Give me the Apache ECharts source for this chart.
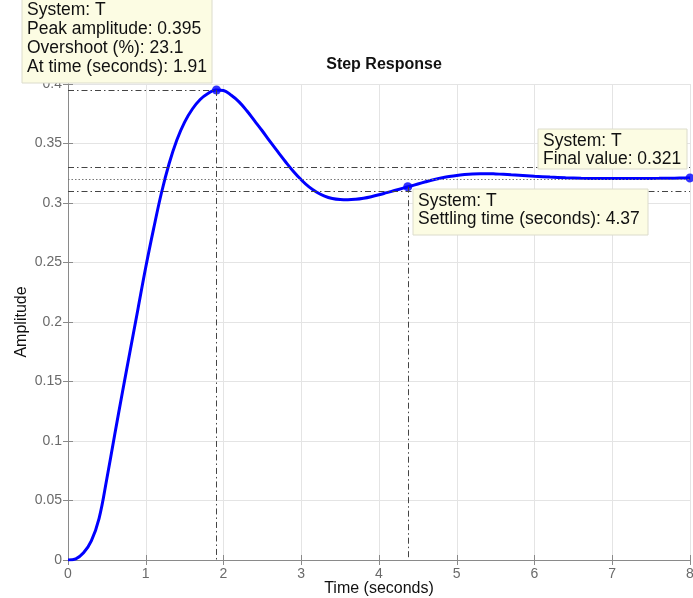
<!DOCTYPE html>
<html>
<head>
<meta charset="utf-8">
<script src="https://cdn.jsdelivr.net/npm/echarts@6/dist/echarts.min.js"></script>
<style>
  html, body { margin: 0; padding: 0; background: #fff; }
  #chart { width: 693px; height: 598px; }
</style>
</head>
<body>
<div id="chart"></div>
<script>
// step response
const timeS = [0, 0.1, 0.2, 0.3, 0.4, 0.5, 0.6, 0.7, 0.8, 0.9,
  1.0, 1.1, 1.2, 1.3, 1.4, 1.5, 1.6, 1.7, 1.8, 1.9,
  2.0, 2.1, 2.2, 2.3, 2.4, 2.5, 2.6, 2.7, 2.8, 2.9,
  3.0, 3.1, 3.2, 3.3, 3.4, 3.5, 3.6, 3.7, 3.8, 3.9,
  4.0, 4.1, 4.2, 4.3, 4.4, 4.5, 4.6, 4.7, 4.8, 4.9,
  5.0, 5.1, 5.2, 5.3, 5.4, 5.5, 5.6, 5.7, 5.8, 5.9,
  6.0, 6.2, 6.4, 6.6, 6.8, 7.0, 7.2, 7.4, 7.6, 7.8, 8.0];
const amplitude = [0, 0.001, 0.006, 0.016, 0.035, 0.0685, 0.105, 0.141, 0.176, 0.211,
  0.246, 0.278, 0.308, 0.333, 0.353, 0.368, 0.379, 0.387, 0.392, 0.395,
  0.3945, 0.3905, 0.385, 0.3775, 0.369, 0.3605, 0.3515, 0.343, 0.3345, 0.3265,
  0.3195, 0.3135, 0.309, 0.3058, 0.3038, 0.3029, 0.3027, 0.3031, 0.304, 0.3053,
  0.3069, 0.3087, 0.3105, 0.3123, 0.3141, 0.316, 0.3178, 0.3195, 0.321, 0.3222,
  0.3232, 0.3239, 0.3244, 0.3246, 0.3246, 0.3244, 0.3241, 0.3237, 0.3233, 0.3229,
  0.3225, 0.3218, 0.3212, 0.3208, 0.3206, 0.3205, 0.3205, 0.3206, 0.3207, 0.3209, 0.321];

// characteristic points (peak, settling, final)
const markT = [1.91, 4.37, 8];
const markV = [0.395, 0.3137, 0.321];
const settleBand = [0.3274, 0.3146];
const finalValue = 0.321;

const peakText = ['System: T', 'Peak amplitude: 0.395', 'Overshoot (%): 23.1', 'At time (seconds): 1.91'];
const finalText = ['System: T', 'Final value: 0.321'];
const settleText = ['System: T', 'Settling time (seconds): 4.37'];

const font = 'Helvetica, "Liberation Sans", Arial, sans-serif';
const axisGray = '#8a8a8a';
const labelGray = '#6a6a6a';
const dashDot = [6, 3, 1.5, 3];

const curve = timeS.map((t, i) => [t, amplitude[i]]);
const markers = markT.map((t, i) => [t, markV[i]]);

function tipBox(x, y, w, h, lines, lineH) {
  return {
    type: 'group',
    children: [
      { type: 'rect', z: 100, shape: { x: x, y: y, width: w, height: h },
        style: { fill: '#fcfce3', stroke: '#dcdccc', lineWidth: 1 } },
      { type: 'text', z: 101, x: x + 5, y: y + 3,
        style: { text: lines.join('\n'), font: '17.5px ' + font, fill: '#111',
                 lineHeight: lineH, textVerticalAlign: 'top' } }
    ]
  };
}

const chart = echarts.init(document.getElementById('chart'), null, { renderer: 'canvas' });
chart.setOption({
  animation: false,
  title: {
    text: 'Step Response', left: 379, top: 52, textAlign: 'center',
    textStyle: { fontFamily: font, fontSize: 16, fontWeight: 'bold', color: '#111' }
  },
  grid: { left: 68, right: 3, top: 84, bottom: 38, outerBoundsMode: 'none', containLabel: false },
  xAxis: [{
    type: 'value', min: 0, max: 8, interval: 1,
    name: 'Time (seconds)', nameLocation: 'middle', nameGap: 21, nameMoveOverlap: false,
    nameTextStyle: { fontFamily: font, fontSize: 16, color: '#111' },
    axisLine: { lineStyle: { color: axisGray } },
    axisTick: { inside: true, length: 5, lineStyle: { color: axisGray } },
    axisLabel: { fontFamily: font, fontSize: 14, color: labelGray, margin: 7 },
    splitLine: { lineStyle: { color: '#e4e4e4' } }
  }, {
    type: 'value', position: 'top', min: 0, max: 8, interval: 1,
    axisLine: { show: true, lineStyle: { color: axisGray } },
    axisTick: { show: true, inside: true, length: 5, lineStyle: { color: axisGray } },
    axisLabel: { show: false }, splitLine: { show: false }
  }],
  yAxis: [{
    type: 'value', min: 0, max: 0.4, interval: 0.05,
    name: 'Amplitude', nameLocation: 'middle', nameGap: 38, nameMoveOverlap: false,
    nameTextStyle: { fontFamily: font, fontSize: 16, color: '#111' },
    axisLine: { show: true, lineStyle: { color: axisGray } },
    axisTick: { show: true, inside: true, length: 5, lineStyle: { color: axisGray } },
    axisLabel: { fontFamily: font, fontSize: 14, color: labelGray, margin: 6 },
    splitLine: { lineStyle: { color: '#e4e4e4' } }
  }, {
    type: 'value', position: 'right', min: 0, max: 0.4, interval: 0.05,
    axisLine: { show: true, lineStyle: { color: axisGray } },
    axisTick: { show: true, inside: true, length: 5, lineStyle: { color: axisGray } },
    axisLabel: { show: false }, splitLine: { show: false }
  }],
  series: [{
    type: 'scatter', data: [], z: 1, silent: true,
    markLine: {
      silent: true, symbol: ['none', 'none'], label: { show: false },
      lineStyle: { color: '#444', width: 1, type: dashDot },
      data: [
        [{ coord: [0, markV[0]] }, { coord: [markT[0], markV[0]] }],
        [{ coord: [markT[0], markV[0]] }, { coord: [markT[0], 0] }],
        [{ coord: [markT[1], markV[1]] }, { coord: [markT[1], 0] }],
        { yAxis: settleBand[0] },
        { yAxis: settleBand[1] },
        { yAxis: finalValue, lineStyle: { type: [1.5, 2], color: '#777' } }
      ]
    }
  }, {
    type: 'line', data: curve, smooth: 0.4, showSymbol: false, z: 3,
    lineStyle: { color: '#0000ff', width: 3 }
  }, {
    type: 'scatter', data: markers, z: 4, symbolSize: 9,
    itemStyle: { color: '#0000ff' }
  }],
  graphic: [
    tipBox(22, -2, 190, 85, peakText, 19),
    tipBox(538, 129, 149, 40, finalText, 18),
    tipBox(413, 189, 235, 46, settleText, 18)
  ]
});
</script>
</body>
</html>
